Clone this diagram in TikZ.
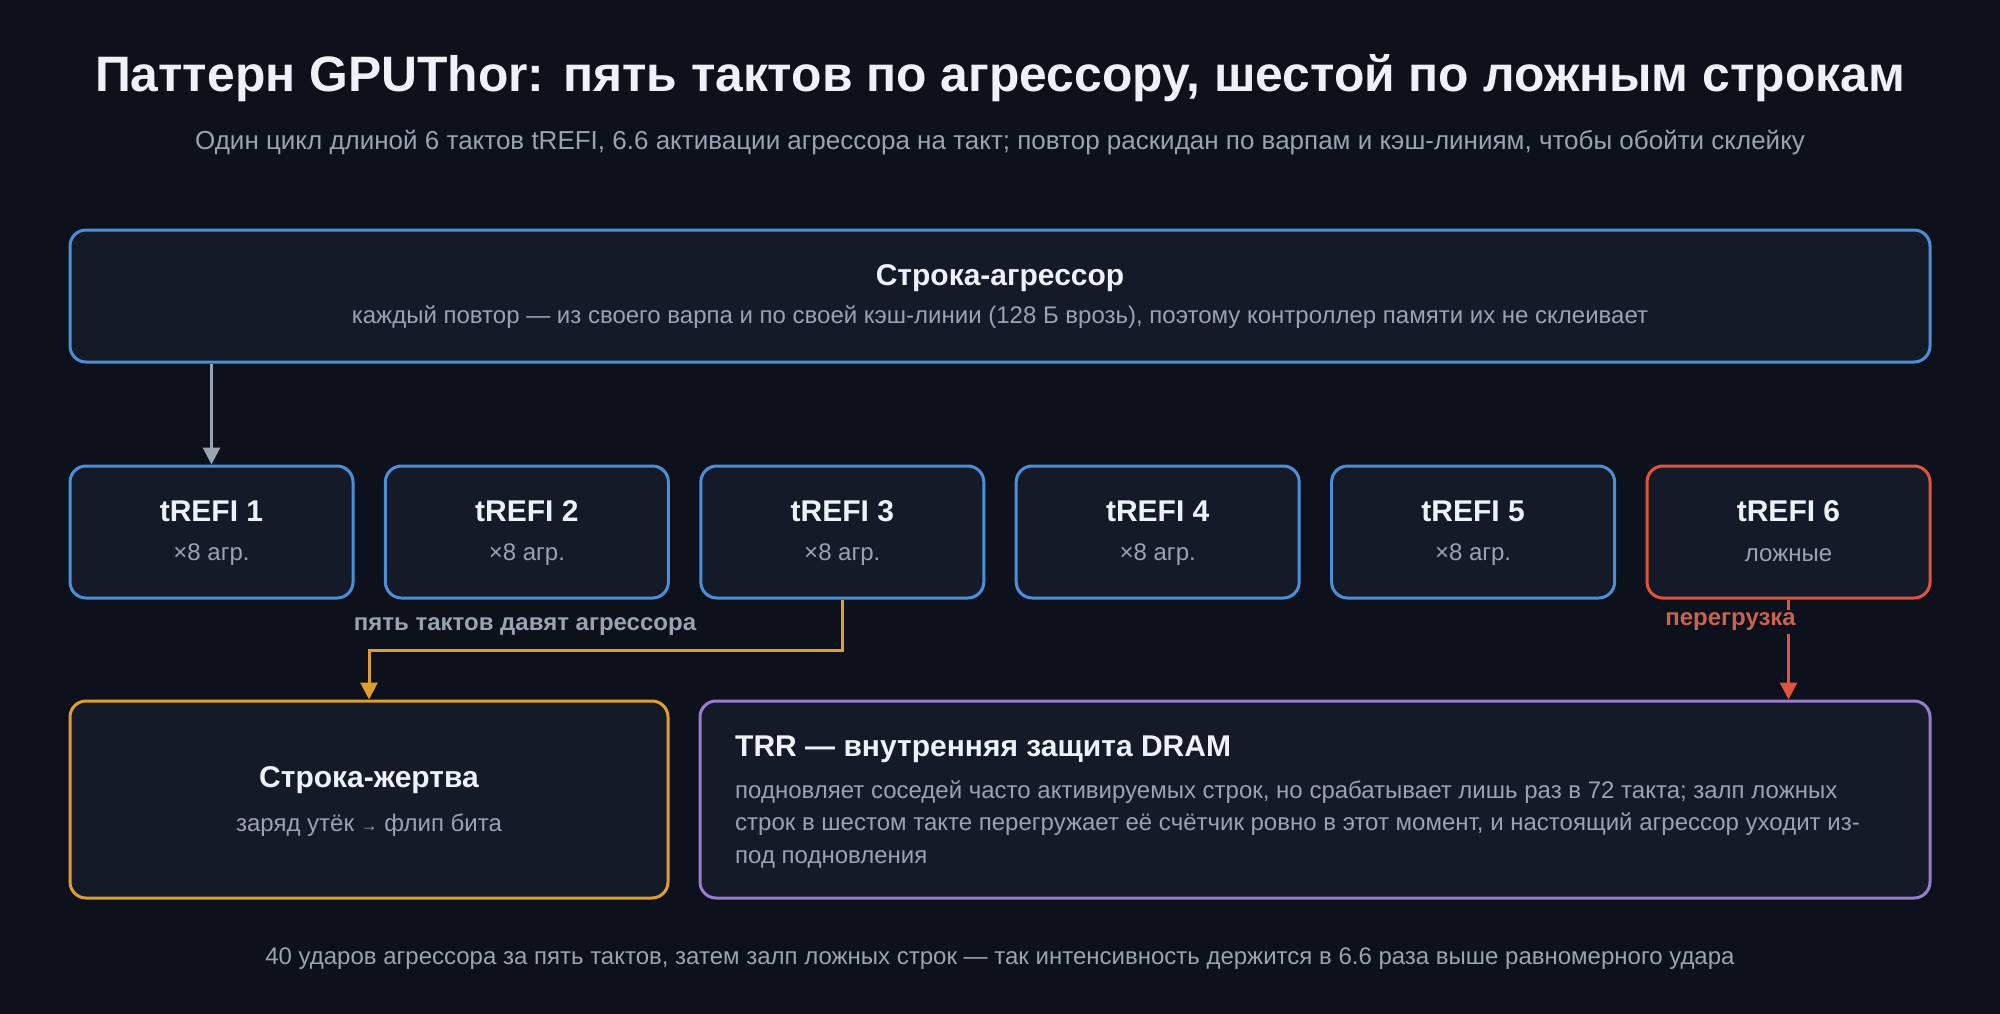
\documentclass[tikz,border=0pt]{standalone}
\usepackage{fontspec}
\setmainfont{Liberation Sans}
\usetikzlibrary{arrows.meta}
\definecolor{bg}{HTML}{0D111B}
\definecolor{boxfill}{HTML}{141A28}
\definecolor{cblue}{HTML}{4A8FD8}
\definecolor{cred}{HTML}{E0533D}
\definecolor{corange}{HTML}{DDA02E}
\definecolor{cpurple}{HTML}{9A7CD0}
\definecolor{ctitle}{HTML}{EEF2F8}
\definecolor{cgray}{HTML}{9AA3B2}
\definecolor{clabred}{HTML}{C9624E}
\newcommand{\fsz}[1]{\fontsize{#1}{#1}\selectfont}
\tikzset{
  panel/.style={draw, line width=3pt, rounded corners=16pt, fill=boxfill, inner sep=0pt},
  ttl/.style={text=ctitle, font=\fsz{30}\bfseries, inner sep=0pt},
  sub/.style={text=cgray, font=\fsz{24}, inner sep=0pt},
  conn/.style={line width=3pt, -{Triangle[length=17pt,width=17pt]}},
}
\begin{document}
\begin{tikzpicture}[x=1pt,y=-1pt]
\fill[bg] (0,0) rectangle (2000,1014);
\useasboundingbox (0,0) rectangle (2000,1014);

\node[text=ctitle, font=\fsz{49.8}\bfseries, inner sep=0pt] (title) at (1000,78) {Паттерн GPUThor: пять тактов по агрессору, шестой по ложным строкам};
\node[text=cgray, font=\fsz{26}, inner sep=0pt] (subtitle) at (1000,142.5) {Один цикл длиной 6 тактов tREFI, 6.6 активации агрессора на такт; повтор раскидан по варпам и кэш-линиям, чтобы обойти склейку};

% top box
\node[panel, draw=cblue, minimum width=1860pt, minimum height=132pt] (top) at (1000,296) {};
\node[ttl] (topt) at (1000,278) {Строка-агрессор};
\node[sub] (tops) at (1000,317.5) {каждый повтор — из своего варпа и по своей кэш-линии (128 Б врозь), поэтому контроллер памяти их не склеивает};

% tREFI boxes
\foreach \i/\x/\c/\s in {1/211.5/cblue/×8 агр.,2/526.9/cblue/×8 агр.,3/842.3/cblue/×8 агр.,4/1157.7/cblue/×8 агр.,5/1473.1/cblue/×8 агр.,6/1788.5/cred/ложные}{
  \node[panel, draw=\c, minimum width=283pt, minimum height=132pt] (r\i) at (\x,532) {};
  \node[ttl] (r\i t) at (\x,511) {tREFI \i};
  \node[sub] (r\i s) at (\x,555) {\s};
}

% victim box
\node[panel, draw=corange, minimum width=598pt, minimum height=197pt] (victim) at (369,799.5) {};
\node[ttl] (victimt) at (369,780.5) {Строка-жертва};
\node[sub] (victims) at (369,825) {заряд утёк {\fsz{17}→} флип бита};

% TRR box
\node[panel, draw=cpurple, minimum width=1230pt, minimum height=197pt] (trr) at (1315,799.5) {};
\node[ttl, anchor=west] (trrt) at (735,749) {TRR — внутренняя защита DRAM};
\node[sub, anchor=north west, align=left, font=\fontsize{24}{32.5}\selectfont] (trrs) at (735,780) {подновляет соседей часто активируемых строк, но срабатывает лишь раз в 72 такта; залп ложных\\строк в шестом такте перегружает её счётчик ровно в этот момент, и настоящий агрессор уходит из-\\под подновления};

% footer
\node[sub] (footer) at (1000,959) {40 ударов агрессора за пять тактов, затем залп ложных строк — так интенсивность держится в 6.6 раза выше равномерного удара};

% connectors
\draw[conn, draw=cgray] (r1.north |- top.south) -- (r1.north);
\draw[conn, draw=corange] (r3.south) -- ++(0,51) -| (victim.north);
\draw[conn, draw=cred] (r6.south) -- (r6.south |- trr.north);

\node[text=cgray, font=\fsz{24}\bfseries, inner sep=0pt] (lab1) at (525,627) {пять тактов давят агрессора};
\node[text=clabred, font=\fsz{24}\bfseries, fill=bg, inner sep=3pt, anchor=east] (lab2) at (1799,622) {перегрузка};
\end{tikzpicture}
\end{document}
